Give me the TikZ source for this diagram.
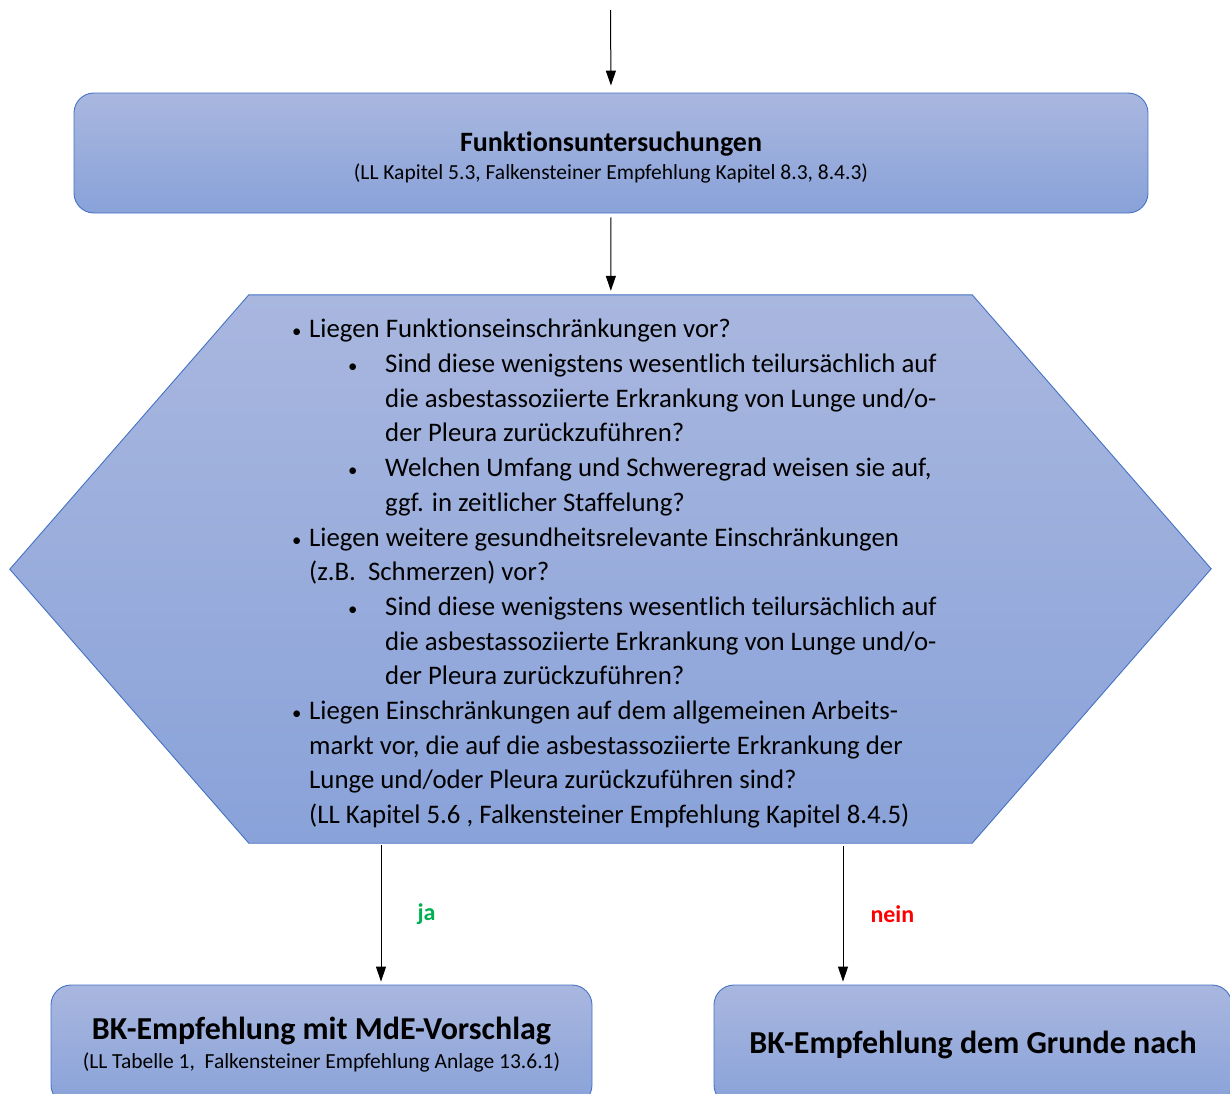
\documentclass[tikz,border=0pt]{standalone}
\usepackage{fontspec}
\setmainfont{Carlito}[RawFeature=-liga]
\usepackage{xcolor}
\usepackage{tikz}
\usetikzlibrary{positioning,arrows.meta}
\definecolor{boxtop}{HTML}{A9B7DF}
\definecolor{boxbottom}{HTML}{89A2D9}
\definecolor{boxline}{HTML}{4472C4}
\definecolor{jagreen}{HTML}{00B050}
\definecolor{neinred}{HTML}{FF0000}
\newcommand{\qdot}{\scalebox{0.7}{\textbullet}}
\newcommand{\qitem}{\makebox[17pt][l]{\qdot}}
\newcommand{\qsub}{\hspace{56pt}\makebox[37pt][l]{\qdot}}
\newcommand{\qgo}{\hspace{17pt}}
\newcommand{\qsubgo}{\hspace{93pt}}

\begin{document}
\begin{tikzpicture}[x=1pt, y=-1pt,
  box/.style={draw=boxline, line width=0.9pt, rounded corners=20pt, top color=boxtop, bottom color=boxbottom, inner sep=0pt, align=center},
  flow/.style={-{Triangle[length=15pt,width=10pt]}, line width=1pt},
  answer/.style={inner sep=0pt, font=\fontsize{24}{28}\selectfont\bfseries}]
\useasboundingbox (0,0) rectangle (1230,1093);
\clip (0,0) rectangle (1230,1093);

\coordinate (entry) at (610.5,10);
\node[box, minimum width=1074pt, minimum height=120pt] (func) at (611,153) {{\fontsize{28}{32}\selectfont\bfseries\rule{0pt}{29pt}Funktionsuntersuchungen}\\[7pt]{\fontsize{21.5}{25}\selectfont (LL Kapitel 5.3, Falkensteiner Empfehlung Kapitel 8.3, 8.4.3)}};

\node[minimum width=723pt, minimum height=548pt, inner sep=0pt] (quest) at (610.5,569) {};
\path[draw=boxline, line width=0.9pt, top color=boxtop, bottom color=boxbottom] (quest.north west) -- (quest.north east) -- ++(239,274) -- (quest.south east) -- (quest.south west) -- ++(-239,-274) -- cycle;
\node[anchor=north west, inner sep=0pt, align=left, font=\fontsize{26.8}{34.7}\selectfont] (qlist) at (292,319) {%
\qitem Liegen Funktionseinschränkungen vor?\\
\qsub Sind diese wenigstens wesentlich teilursächlich auf\\
\qsubgo die asbestassoziierte Erkrankung von Lunge und/o-\\
\qsubgo der Pleura zurückzuführen?\\
\qsub Welchen Umfang und Schweregrad weisen sie auf,\\
\qsubgo ggf. in zeitlicher Staffelung?\\
\qitem Liegen weitere gesundheitsrelevante Einschränkungen\\
\qgo (z.B.\ \ Schmerzen) vor?\\
\qsub Sind diese wenigstens wesentlich teilursächlich auf\\
\qsubgo die asbestassoziierte Erkrankung von Lunge und/o-\\
\qsubgo der Pleura zurückzuführen?\\
\qitem Liegen Einschränkungen auf dem allgemeinen Arbeits-\\
\qgo markt vor, die auf die asbestassoziierte Erkrankung der\\
\qgo Lunge und/oder Pleura zurückzuführen sind?\\
\qgo (LL Kapitel 5.6 , Falkensteiner Empfehlung Kapitel 8.4.5)};

\node[box, minimum width=541pt, minimum height=120pt] (yes) at (321.5,1045) {{\fontsize{32}{36}\selectfont\bfseries BK-Empfehlung mit MdE-Vorschlag}\\[7pt]{\fontsize{21.5}{25}\selectfont (LL Tabelle 1,\ \ Falkensteiner Empfehlung Anlage 13.6.1)}};
\node[box, minimum width=518pt, minimum height=120pt] (no) at (973,1045) {{\fontsize{32}{36}\selectfont\bfseries BK-Empfehlung dem Grunde nach}};

\draw[flow, shorten >=7pt] (entry) -- (func.north);
\draw[flow, shorten <=4pt, shorten >=4pt] (func) -- (quest);
\draw[flow, shorten <=2pt, shorten >=3pt] ([xshift=59.5pt]yes.north |- quest.south) -- ([xshift=59.5pt]yes.north) node[midway, right=36pt, answer, text=jagreen] {ja};
\draw[flow, shorten <=3pt, shorten >=3pt] ([xshift=-130pt]no.north |- quest.south) -- ([xshift=-130pt]no.north) node[midway, right=27pt, answer, text=neinred] {nein};

\end{tikzpicture}
\end{document}
